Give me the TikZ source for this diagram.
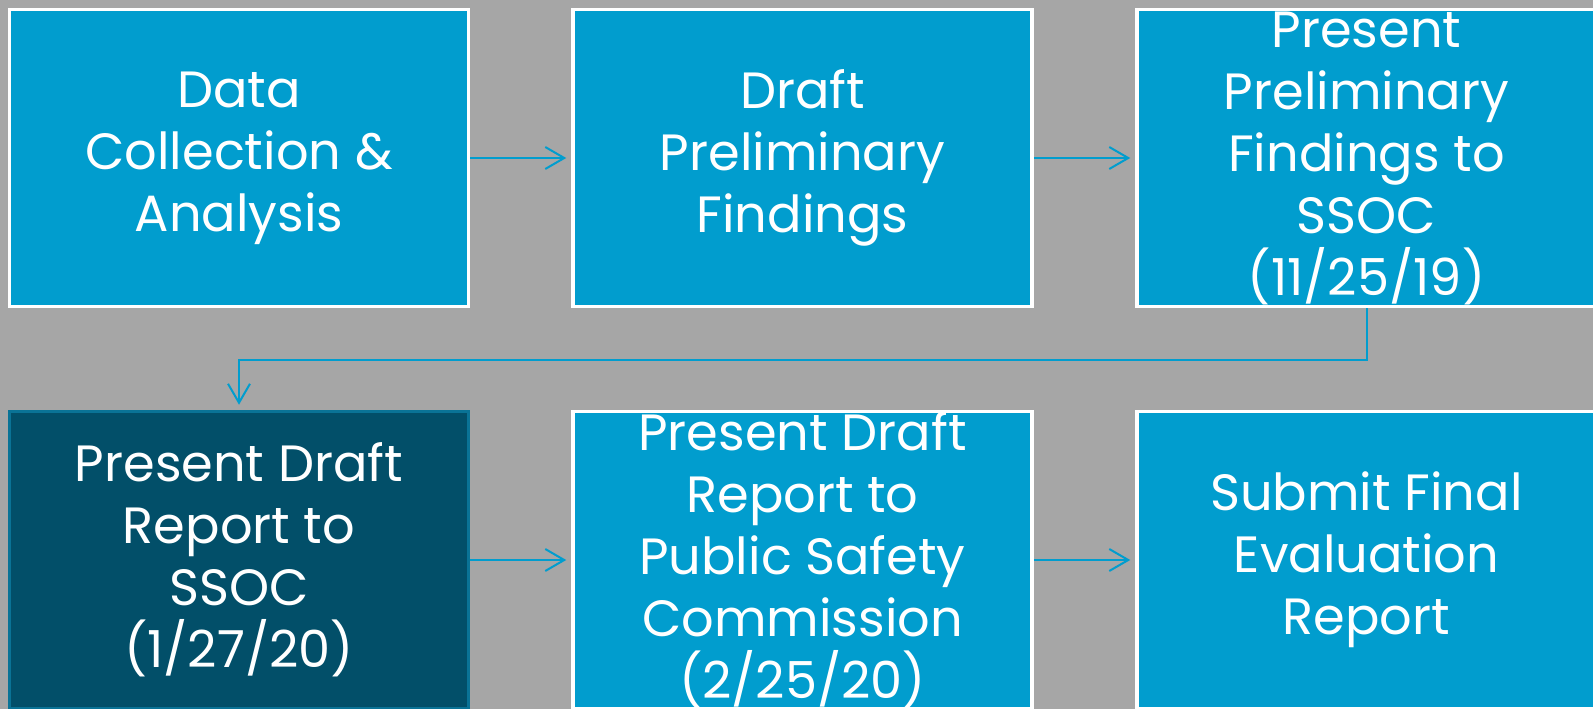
\documentclass[tikz,border=0pt]{standalone}
\usepackage{fontspec}
\setmainfont{Poppins}
\usetikzlibrary{arrows.meta}
\definecolor{bgrey}{HTML}{A6A6A6}
\definecolor{boxblue}{HTML}{019DCE}
\definecolor{darkbox}{HTML}{024F69}
\definecolor{darkedge}{HTML}{0A7396}
\tikzset{
  stepbox/.style={draw=white, line width=3.5pt, fill=boxblue, text=white,
    minimum width=459pt, minimum height=297pt, inner sep=0pt, align=center,
    font=\fontsize{51}{62}\selectfont},
  darkstep/.style={stepbox, fill=darkbox, draw=darkedge},
  conn/.style={draw=boxblue, line width=2pt, shorten >=5pt,
    -{Straight Barb[length=19pt,width=22pt,line width=2pt]}}
}
\begin{document}
\begin{tikzpicture}[x=1pt,y=-1pt]
\useasboundingbox (0,0) rectangle (1593,709);
\clip (0,0) rectangle (1593,709);
\fill[bgrey] (0,0) rectangle (1593,709);
\node[stepbox] (b1) at (239,158) {Data\\Collection \&\\Analysis};
\node[stepbox] (b2) at (802.5,158) {Draft\\Preliminary\\Findings};
\node[stepbox] (b3) at (1366.5,158) {Present\\Preliminary\\Findings to\\SSOC\\(11/25/19)};
\node[darkstep] (b4) at (239,560) {Present Draft\\Report to\\SSOC\\(1/27/20)};
\node[stepbox] (b5) at (802.5,560) {Present Draft\\Report to\\Public Safety\\Commission\\(2/25/20)};
\node[stepbox] (b6) at (1366.5,560) {Submit Final\\Evaluation\\Report};
\draw[conn] (b1) -- (b2);
\draw[conn] (b2) -- (b3);
\draw[conn] (b3.south) -- ++(0,52) -| (b4.north);
\draw[conn] (b4) -- (b5);
\draw[conn] (b5) -- (b6);
\end{tikzpicture}
\end{document}
